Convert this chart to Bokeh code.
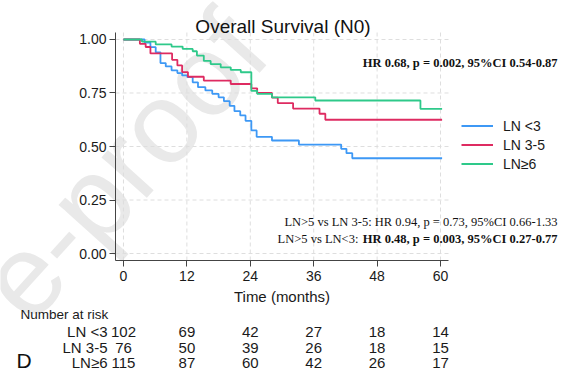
from bokeh.plotting import figure
from bokeh.models import (Range1d, FixedTicker, PrintfTickFormatter, Label,
                          Legend, LegendItem, LinearAxis, ColumnDataSource)
from bokeh.core.properties import value
from bokeh.embed import file_html
from bokeh.resources import INLINE

# ---------------- data ----------------
groups = ["LN <3", "LN 3-5", "LN≥6"]
colors = ["#3d98f5", "#de2b61", "#2ec98a"]

t_lt3 = [0, 4.0, 5.1, 6.1, 7.0, 8.0, 9.1, 10.2, 11.1, 12.1, 13.1, 14.1, 15.5,
         16.8, 18.0, 19.0, 20.1, 21.0, 22.1, 23.1, 24.2, 25.2, 28.1, 33.2,
         41.2, 42.2, 43.3, 60.3]
s_lt3 = [1.0, 0.986, 0.964, 0.94, 0.89, 0.874, 0.856, 0.843, 0.832, 0.824,
         0.80, 0.777, 0.762, 0.746, 0.73, 0.712, 0.69, 0.665, 0.645, 0.62,
         0.575, 0.545, 0.528, 0.509, 0.489, 0.469, 0.445, 0.445]

t_35 = [0, 3.1, 4.2, 5.1, 9.2, 10.2, 11.1, 12.2, 15.2, 20.3, 24.2, 25.3,
        28.1, 29.2, 32.1, 37.1, 38.2, 60.3]
s_35 = [1.0, 0.98, 0.965, 0.935, 0.905, 0.879, 0.848, 0.826, 0.808, 0.792,
        0.772, 0.75, 0.728, 0.703, 0.677, 0.653, 0.625, 0.625]

t_ge6 = [0, 3.5, 6.1, 9.1, 11.2, 13.1, 13.9, 15.2, 16.5, 18.4, 20.3, 22.2,
         24.2, 25.3, 28.1, 36.3, 56.2, 60.3]
s_ge6 = [1.0, 0.99, 0.977, 0.967, 0.956, 0.945, 0.925, 0.90, 0.885, 0.87,
         0.858, 0.847, 0.76, 0.746, 0.73, 0.715, 0.676, 0.676]

x_ticks = [0, 12, 24, 36, 48, 60]
y_ticks = [0, 0.25, 0.5, 0.75, 1.0]

risk_lt3 = [102, 69, 42, 27, 18, 14]
risk_35 = [76, 50, 39, 26, 18, 15]
risk_ge6 = [115, 87, 60, 42, 26, 17]

title_text = "Overall Survival (N0)"
x_label = "Time (months)"
note_main = "HR 0.68, p = 0.002, 95%CI 0.54-0.87"
note_2 = "LN>5 vs LN 3-5: HR 0.94, p = 0.73, 95%CI 0.66-1.33"
note_3a = "LN>5 vs LN<3: "
note_3b = "HR 0.48, p = 0.003, 95%CI 0.27-0.77"
watermark = "e-proof"

# ---------------- layout ----------------
W, H = 566, 379
# plot area (pixels) and its data extent
PX_L, PX_R, PY_T, PY_B = 115, 448, 32, 260
AX_X0, AX_X1 = -1.51, 61.51
AX_Y0, AX_Y1 = -0.0327, 1.0327
SX = (PX_R - PX_L) / (AX_X1 - AX_X0)
SY = (PY_B - PY_T) / (AX_Y1 - AX_Y0)


def dx(px):
    return AX_X0 + (px - PX_L) / SX


def dy(py):
    return AX_Y0 + (PY_B - py) / SY


SANS = "Liberation Sans"
SERIF = "Liberation Serif"
INK = "#1a1a1a"

p = figure(width=W, height=H, output_backend="svg", toolbar_location=None,
           title=None, x_axis_type=None, y_axis_type=None,
           x_range=Range1d(dx(0), dx(W)), y_range=Range1d(dy(H), dy(0)),
           min_border=0, background_fill_color="white",
           border_fill_color="white")
p.outline_line_color = None

# watermark
p.add_layout(Label(x=dx(0), y=dy(300), text=watermark, angle=48,
                   angle_units="deg", text_align="left",
                   text_baseline="middle", text_font=SANS,
                   text_font_size="115px", text_color="#e9e9e9",
                   level="underlay"))

# grid (dashed) at tick positions
p.segment(x0=x_ticks, y0=[AX_Y0] * len(x_ticks), x1=x_ticks,
          y1=[AX_Y1] * len(x_ticks), line_color="#dedede", line_width=1,
          line_dash="4 3")
p.segment(x0=[AX_X0] * len(y_ticks), y0=y_ticks, x1=[AX_X1] * len(y_ticks),
          y1=y_ticks, line_color="#dedede", line_width=1, line_dash="4 3")

# axes
yax = LinearAxis(fixed_location=AX_X0, bounds=(AX_Y0, AX_Y1),
                 ticker=FixedTicker(ticks=y_ticks),
                 formatter=PrintfTickFormatter(format="%.2f"))
xax = LinearAxis(fixed_location=AX_Y0, bounds=(AX_X0, AX_X1),
                 ticker=FixedTicker(ticks=x_ticks), axis_label=x_label)
for ax in (xax, yax):
    ax.axis_line_color = "#444444"
    ax.major_tick_line_color = "#444444"
    ax.major_tick_out = 6
    ax.major_tick_in = 0
    ax.minor_tick_out = 0
    ax.minor_tick_in = 0
    ax.major_label_text_font = SANS
    ax.major_label_text_font_size = "14px"
    ax.major_label_text_color = INK
xax.major_label_standoff = 4
yax.major_label_standoff = 3
xax.axis_label_text_font = SANS
xax.axis_label_text_font_size = "15px"
xax.axis_label_text_font_style = "normal"
xax.axis_label_text_color = INK
xax.axis_label_standoff = 4
p.add_layout(yax, "left")
p.add_layout(xax, "below")

# curves
renderers = []
for t, s, c in ((t_lt3, s_lt3, colors[0]), (t_35, s_35, colors[1]),
                (t_ge6, s_ge6, colors[2])):
    r = p.step(t, s, mode="after", line_color=c, line_width=1.8)
    renderers.append(r)

legend = Legend(items=[LegendItem(label=g, renderers=[r])
                       for g, r in zip(groups, renderers)],
                location=(461, 206), border_line_color=None,
                background_fill_alpha=0, padding=0, margin=0, spacing=0,
                glyph_width=32, glyph_height=19, label_height=19,
                label_standoff=10, label_text_font=SANS,
                label_text_font_size="14px", label_text_color=INK)
p.add_layout(legend)

# title
p.add_layout(Label(x=dx(282.5), y=dy(25.5), text=title_text,
                   text_align="center", text_baseline="alphabetic",
                   text_font=SANS, text_font_size="19px", text_color="#111111"))

# annotations
p.add_layout(Label(x=dx(557), y=dy(62), text=note_main, text_align="right",
                   text_baseline="middle", text_font=SERIF,
                   text_font_style="bold", text_font_size="12.5px",
                   text_color="#111111"))
p.add_layout(Label(x=dx(557), y=dy(221), text=note_2, text_align="right",
                   text_baseline="middle", text_font=SERIF,
                   text_font_size="12.5px", text_color="#111111"))
p.add_layout(Label(x=dx(557), y=dy(238), text=note_3b, text_align="right",
                   text_baseline="middle", text_font=SERIF,
                   text_font_style="bold", text_font_size="12.5px",
                   text_color="#111111"))
p.add_layout(Label(x=dx(361), y=dy(238), text=note_3a, text_align="right",
                   text_baseline="middle", text_font=SERIF,
                   text_font_size="12.5px", text_color="#111111"))

# risk table
p.add_layout(Label(x=dx(20), y=dy(314), text="Number at risk",
                   text_align="left", text_baseline="middle", text_font=SANS,
                   text_font_size="13.5px", text_color=INK))
row_py = [331, 347, 362]
for g, counts, py in zip(groups, (risk_lt3, risk_35, risk_ge6), row_py):
    p.add_layout(Label(x=dx(107), y=dy(py), text=g, text_align="right",
                       text_baseline="middle", text_font=SANS,
                       text_font_size="15px", text_color=INK))
    src = ColumnDataSource(dict(x=x_ticks, y=[dy(py)] * len(x_ticks),
                                n=[str(v) for v in counts]))
    p.text(x="x", y="y", text="n", source=src, text_align="center",
           text_baseline="middle", text_font=value(SANS),
           text_font_size="15px", text_color=INK)

p.add_layout(Label(x=dx(16), y=dy(360), text="D", text_align="left",
                   text_baseline="middle", text_font=SANS,
                   text_font_size="21px", text_color="#111111"))

open("out.html", "w").write(file_html(p, INLINE))
